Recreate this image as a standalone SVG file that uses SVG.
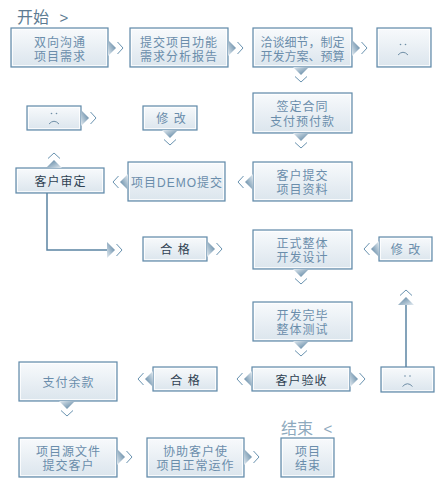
<svg xmlns="http://www.w3.org/2000/svg" xmlns:xlink="http://www.w3.org/1999/xlink" width="440" height="490" viewBox="0 0 440 490">
<defs>
<linearGradient id="bg" x1="0" y1="0" x2="0" y2="1">
<stop offset="0" stop-color="#f8fafc"/>
<stop offset="1" stop-color="#dbe5ed"/>
</linearGradient>
<linearGradient id="tg" x1="0" y1="1" x2="1" y2="0">
<stop offset="0" stop-color="#e3ebf1"/>
<stop offset="1" stop-color="#4f7a9a"/>
</linearGradient>
<g id="ar">
<polygon points="0,-8 8,0 0,8" fill="url(#tg)"/>
<polyline points="9.5,-6 15,0 9.5,6" fill="none" stroke="#6a93b0" stroke-width="1"/>
</g>
<g id="face">
<circle cx="-2.5" cy="-3.5" r="0.8" fill="#6f8ea6"/>
<circle cx="2.5" cy="-3.5" r="0.8" fill="#6f8ea6"/>
<path d="M-5,7 Q0,1.5 5,7" fill="none" stroke="#6f8ea6" stroke-width="1"/>
</g>
</defs>
<style>
.b{fill:url(#bg);stroke:#5f89a8;stroke-width:1.2}
.i{fill:none;stroke:#ffffff;stroke-width:1;opacity:0.8}
text{font-family:"Liberation Sans","Noto Sans CJK SC",sans-serif;font-size:12px;text-anchor:middle;fill:#6a8dab;letter-spacing:1px}
.d{fill:#2e4152}
.n{letter-spacing:0}
.t{font-size:16px;text-anchor:start;fill:#5d7b92;letter-spacing:0}
.e{fill:#8ea9bd}
.ln{fill:none;stroke:#5b84a3;stroke-width:1.5}
</style>
<rect width="440" height="490" fill="#ffffff"/>

<g id="start"><text class="t" x="17" y="23">开始 <tspan font-size="15" dx="6">&gt;</tspan></text></g>
<g id="end"><text class="t e" x="281" y="434">结束 <tspan font-size="15" dx="6">&lt;</tspan></text></g>

<g id="n1"><rect class="b" x="11" y="28" width="97" height="39"/><rect class="i" x="12.5" y="29.5" width="94" height="36"/><text x="60" y="46.5">双向沟通<tspan x="60" dy="14">项目需求</tspan></text></g>
<g id="n2"><rect class="b" x="130" y="28" width="98" height="39"/><rect class="i" x="131.5" y="29.5" width="95" height="36"/><text x="179" y="46.5">提交项目功能<tspan x="179" dy="14">需求分析报告</tspan></text></g>
<g id="n3"><rect class="b" x="253" y="28" width="99" height="39"/><rect class="i" x="254.5" y="29.5" width="96" height="36"/><text class="n" x="302.5" y="46.5">洽谈细节，制定<tspan x="302.5" dy="14">开发方案、预算</tspan></text></g>
<g id="n4"><rect class="b" x="377" y="28" width="54" height="39"/><rect class="i" x="378.5" y="29.5" width="51" height="36"/><use xlink:href="#face" transform="translate(403,48)"/></g>

<g id="n5"><rect class="b" x="27" y="106" width="54" height="24"/><rect class="i" x="28.5" y="107.5" width="51" height="21"/><use xlink:href="#face" transform="translate(54,117)"/></g>
<g id="n6"><rect class="b" x="143" y="106" width="54" height="24"/><rect class="i" x="144.5" y="107.5" width="51" height="21"/><text x="171.5" y="123" xml:space="preserve">修 改</text></g>
<g id="n7"><rect class="b" x="253" y="93" width="99" height="40"/><rect class="i" x="254.5" y="94.5" width="96" height="37"/><text x="302.5" y="111">签定合同<tspan x="302.5" dy="15">支付预付款</tspan></text></g>

<g id="n8"><rect class="b" x="16" y="168" width="88" height="25"/><rect class="i" x="17.5" y="169.5" width="85" height="22"/><text class="d" x="60.5" y="186">客户审定</text></g>
<g id="n9"><rect class="b" x="128" y="162" width="97" height="39"/><rect class="i" x="129.5" y="163.5" width="94" height="36"/><text x="177" y="187" letter-spacing="0.3">项目DEMO提交</text></g>
<g id="n10"><rect class="b" x="253" y="162" width="99" height="39"/><rect class="i" x="254.5" y="163.5" width="96" height="36"/><text x="302.5" y="180">客户提交<tspan x="302.5" dy="14">项目资料</tspan></text></g>

<g id="n11"><rect class="b" x="143" y="237" width="64" height="24"/><rect class="i" x="144.5" y="238.5" width="61" height="21"/><text class="d" x="175.5" y="254" xml:space="preserve">合 格</text></g>
<g id="n12"><rect class="b" x="253" y="230" width="99" height="39"/><rect class="i" x="254.5" y="231.5" width="96" height="36"/><text x="302.5" y="248">正式整体<tspan x="302.5" dy="14">开发设计</tspan></text></g>
<g id="n13"><rect class="b" x="379" y="237" width="53" height="24"/><rect class="i" x="380.5" y="238.5" width="50" height="21"/><text x="406" y="254" xml:space="preserve">修 改</text></g>

<g id="n14"><rect class="b" x="253" y="302" width="99" height="39"/><rect class="i" x="254.5" y="303.5" width="96" height="36"/><text x="302.5" y="320">开发完毕<tspan x="302.5" dy="14">整体测试</tspan></text></g>

<g id="n15"><rect class="b" x="19" y="362" width="98" height="39"/><rect class="i" x="20.5" y="363.5" width="95" height="36"/><text x="68.5" y="387">支付余款</text></g>
<g id="n16"><rect class="b" x="153" y="367" width="64" height="24"/><rect class="i" x="154.5" y="368.5" width="61" height="21"/><text class="d" x="185.5" y="384.5" xml:space="preserve">合 格</text></g>
<g id="n17"><rect class="b" x="252" y="367" width="98" height="24"/><rect class="i" x="253.5" y="368.5" width="95" height="21"/><text class="d" x="301.5" y="384.5">客户验收</text></g>
<g id="n18"><rect class="b" x="381" y="367" width="53" height="25"/><rect class="i" x="382.5" y="368.5" width="50" height="22"/><use xlink:href="#face" transform="translate(407.5,379.5)"/></g>

<g id="n19"><rect class="b" x="19" y="438" width="98" height="39"/><rect class="i" x="20.5" y="439.5" width="95" height="36"/><text x="68.5" y="456">项目源文件<tspan x="68.5" dy="14">提交客户</tspan></text></g>
<g id="n20"><rect class="b" x="147" y="438" width="97" height="39"/><rect class="i" x="148.5" y="439.5" width="94" height="36"/><text x="195.5" y="456">协助客户使<tspan x="195.5" dy="14">项目正常运作</tspan></text></g>
<g id="n21"><rect class="b" x="281" y="438" width="53" height="39"/><rect class="i" x="282.5" y="439.5" width="50" height="36"/><text x="308" y="456">项目<tspan x="308" dy="14">结束</tspan></text></g>

<g id="connectors">
<polyline class="ln" points="47,193 47,250 107,250"/>
<line class="ln" x1="406" y1="367" x2="406" y2="305"/>
<use xlink:href="#ar" transform="translate(108,48)"/>
<use xlink:href="#ar" transform="translate(228,48)"/>
<use xlink:href="#ar" transform="translate(352,48)"/>
<use xlink:href="#ar" transform="translate(301,67) rotate(90)"/>
<use xlink:href="#ar" transform="translate(301,133) rotate(90)"/>
<use xlink:href="#ar" transform="translate(81,118)"/>
<use xlink:href="#ar" transform="translate(170,130) rotate(90)"/>
<use xlink:href="#ar" transform="translate(253,182) rotate(180)"/>
<use xlink:href="#ar" transform="translate(128,182) rotate(180)"/>
<use xlink:href="#ar" transform="translate(54,168) rotate(-90)"/>
<use xlink:href="#ar" transform="translate(107,250)"/>
<use xlink:href="#ar" transform="translate(207,249)"/>
<use xlink:href="#ar" transform="translate(379,249) rotate(180)"/>
<use xlink:href="#ar" transform="translate(301,269) rotate(90)"/>
<use xlink:href="#ar" transform="translate(301,341) rotate(90)"/>
<use xlink:href="#ar" transform="translate(252,379) rotate(180)"/>
<use xlink:href="#ar" transform="translate(350,379)"/>
<use xlink:href="#ar" transform="translate(406,305) rotate(-90)"/>
<use xlink:href="#ar" transform="translate(153,379) rotate(180)"/>
<use xlink:href="#ar" transform="translate(67,401) rotate(90)"/>
<use xlink:href="#ar" transform="translate(117,457)"/>
<use xlink:href="#ar" transform="translate(244,457)"/>
</g>
</svg>
